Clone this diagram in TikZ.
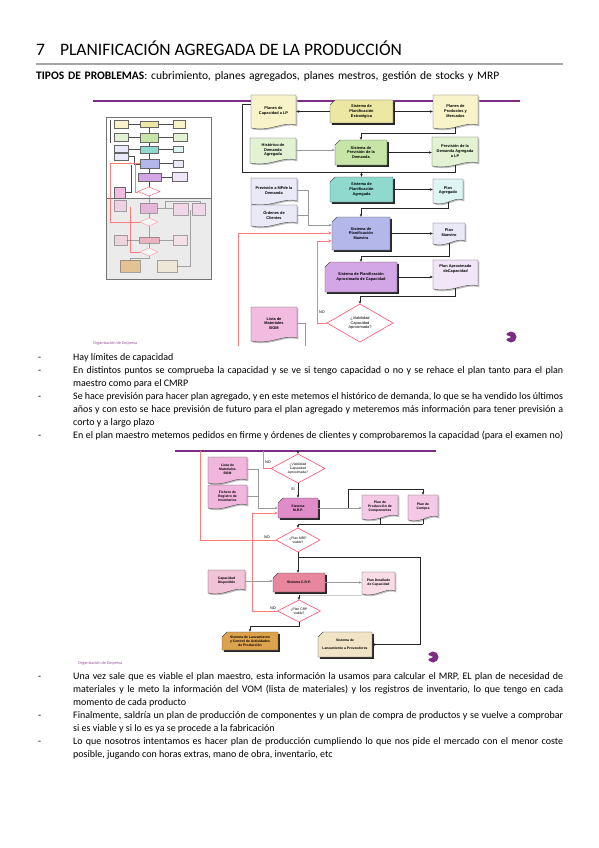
\documentclass[tikz,border=0pt]{standalone}
\usepackage{fontspec}
\setmainfont{Carlito}
\setsansfont{Liberation Sans}
\usetikzlibrary{arrows.meta,calc}
\definecolor{slidepurple}{HTML}{7B2C83}
\definecolor{redline}{HTML}{FF7A7A}
\definecolor{diamred}{HTML}{FF4F6E}
\definecolor{yel}{HTML}{F8F3C8}\definecolor{yelS}{HTML}{EDE7A4}
\definecolor{grn}{HTML}{E2F2D2}\definecolor{grnS}{HTML}{C6E5A6}
\definecolor{cyn}{HTML}{DDF5F3}\definecolor{cynS}{HTML}{8FD9CF}
\definecolor{lav}{HTML}{E9E9F7}\definecolor{lavS}{HTML}{B3B7EA}
\definecolor{lil}{HTML}{F1E5F8}\definecolor{lilS}{HTML}{D3A6E6}
\definecolor{pnk}{HTML}{F2BCE0}
\definecolor{pk2}{HTML}{F1B6DD}\definecolor{pk2S}{HTML}{E08CC8}\definecolor{pk3}{HTML}{F5C8E6}
\definecolor{rose}{HTML}{F2C2D6}\definecolor{roseS}{HTML}{E8869E}\definecolor{rose2}{HTML}{F8DCE6}
\definecolor{orng}{HTML}{DDA24E}\definecolor{beige}{HTML}{F1E3C6}
\tikzset{
  conn/.style={draw=black!85, line width=0.5pt},
  arr/.style={conn, -{Stealth[length=3pt,width=2.6pt]}},
  gconn/.style={draw=black!40, line width=0.5pt},
  garr/.style={gconn, -{Stealth[length=3pt,width=2.6pt]}},
  lconn/.style={draw=black!20, line width=0.5pt},
  redl/.style={draw=redline, line width=1pt},
  redarr/.style={redl, -{Stealth[length=3.5pt,width=3pt]}},
  boxtext/.style={font=\sffamily\bfseries\fontsize{3.9}{4.8}\selectfont, align=center, inner sep=0pt},
  dtext/.style={font=\sffamily\fontsize{3.9}{4.8}\selectfont, align=center, inner sep=0pt},
  lbl/.style={font=\sffamily\fontsize{3.8}{4.5}\selectfont, inner sep=0pt},
  bodyl/.style={anchor=base west, inner sep=0pt, font=\fontsize{10}{13}\selectfont},
  dashn/.style={anchor=base west, inner sep=0pt, font=\fontsize{10}{13}\selectfont},
  foot/.style={anchor=base west, inner sep=0pt, text=slidepurple!80, font=\fontsize{4.3}{5}\selectfont},
}
\newcommand\docn[7]{%
  \pgfmathsetmacro\dw{#4-#2}\pgfmathsetmacro\dh{#5-#3}%
  \fill[black!25] (#2+1.3,#3+1.3) -- (#4+1.3,#3+1.3) -- (#4+1.3,#5-0.7) .. controls (#4+1.3-0.3*\dw,#5-4.7) and (#2+1.3+0.45*\dw,#5+6.3) .. (#2+1.3,#5+2.3) -- cycle;
  \filldraw[fill=#6,draw=black!70,line width=.4pt] (#2,#3) -- (#4,#3) -- (#4,#5-2) .. controls (#4-0.3*\dw,#5-6) and (#2+0.45*\dw,#5+5) .. (#2,#5+1) -- cycle;
  \node[boxtext, minimum width=\dw pt, minimum height=\dh pt] (#1) at ({(#2+#4)/2},{(#3+#5)/2}) {#7};
}
\newcommand\procn[7]{%
  \pgfmathsetmacro\dw{#4-#2}\pgfmathsetmacro\dh{#5-#3}%
  \fill[black!85] (#2+6.8,#3+1.8) -- (#4+1.8,#3+1.8) -- (#4+1.8,#5+1.8) -- (#2+1.8,#5+1.8) -- (#2+1.8,#3+6.8) -- cycle;
  \filldraw[fill=#6,draw=black!70,line width=.4pt] (#2+5,#3) -- (#4,#3) -- (#4,#5) -- (#2,#5) -- (#2,#3+5) -- cycle;
  \node[boxtext, minimum width=\dw pt, minimum height=\dh pt] (#1) at ({(#2+#4)/2},{(#3+#5)/2}) {#7};
}
\newcommand\diam[6]{%
  \filldraw[fill=white, draw=diamred, line width=.6pt] (#2-#4/2,#3) -- (#2,#3-#5/2) -- (#2+#4/2,#3) -- (#2,#3+#5/2) -- cycle;
  \node[dtext, minimum width=#4 pt, minimum height=#5 pt] (#1) at (#2,#3) {#6};
}
\newcommand\minibox[5]{\filldraw[fill=#5, draw=black!60, line width=.25pt] (#1,#2) rectangle (#3,#4);}
\begin{document}
\begin{tikzpicture}[x=1pt,y=-1pt]
\useasboundingbox[fill=white] (0,0) rectangle (599,848);
% heading
\node[anchor=base west, inner sep=0pt, font=\fontsize{17.5}{20}\selectfont] (title) at (36,56) {7\hspace{15pt}PLANIFICACIÓN AGREGADA DE LA PRODUCCIÓN};
\draw[black!35, line width=1.2pt] (36,64) -- (563,64);
\node[anchor=base west, inner sep=0pt, font=\fontsize{11.5}{12}\selectfont] (tipos) at (36,80) {\hbox to 463pt{\textbf{TIPOS DE PROBLEMAS}: cubrimiento, planes agregados, planes mestros, gestión de stocks y MRP}};

% ================= slide 1 =================
\draw[slidepurple, line width=2pt] (93,101.5) -- (520,101.5);
% thumbnail
\filldraw[fill=white, draw=black!55, line width=.5pt] (106,117) rectangle (211,279);
\fill[black!8] (106.5,198) rectangle (210.5,278.5);
\draw[black!55, line width=.8pt] (106,198) -- (211,198);
\draw[black!70, line width=.3pt] (128,124) -- (140,124) (158,124) -- (173,124) (128,137) -- (140,137) (158,137) -- (173,137)
  (128,149) -- (140,149) (158,149) -- (173,149) (159,163) -- (173,163) (161,177) -- (172,177)
  (110,120) -- (110,143) (149,128) -- (149,133) (149,142) -- (149,146) (149,153) -- (149,159) (149,168) -- (149,173) (149,181) -- (149,187)
  (125,192) -- (131,192) -- (131,165) (128,156) -- (134,156) -- (134,164) -- (140,164);
\minibox{114}{120}{128}{128}{yel}\minibox{140}{121}{158}{127}{yelS}\minibox{173}{120}{185}{128}{yel}
\minibox{114}{133}{128}{141}{grn}\minibox{140}{133}{158}{142}{grnS}\minibox{173}{133}{187}{141}{grn}
\minibox{114}{145}{128}{152}{lav}\minibox{114}{153}{128}{160}{lav}\minibox{140}{146}{158}{153}{cynS}\minibox{173}{146}{183}{152}{cyn}
\minibox{140}{159}{159}{168}{lavS}\minibox{173}{160}{183}{167}{lav}
\minibox{138}{173}{161}{181}{lilS}\minibox{172}{172}{187}{181}{lil}
\minibox{114}{187}{125}{198}{pnk}
\draw[redline, line width=.6pt] (110,163) -- (140,163) (110,163) -- (110,222) -- (140,222) (135,163) -- (135,192) -- (138,192)
  (130,207) -- (130,252) -- (140,252);
\filldraw[fill=white, draw=diamred, line width=.4pt] (138,191.5) -- (149,187) -- (160,191.5) -- (149,196) -- cycle;
\begin{scope}[opacity=.55]
\draw[black!60, line width=.3pt] (149,196) -- (149,203) (157,208) -- (173,208) (165,208) -- (165,201) -- (200,201) -- (200,203)
  (149,213) -- (149,218) (149,226) -- (149,237) (126,240) -- (139,240) (159,240) -- (173,240) (149,243) -- (149,248)
  (149,256) -- (149,258) -- (130,258) -- (130,260) (190,210) -- (190,266) -- (177,266);
\minibox{114}{200}{126}{211}{pnk}\minibox{140}{203}{157}{213}{pk2S}\minibox{173}{203}{188}{215}{pk3}\minibox{192}{203}{205}{215}{pk3}
\minibox{114}{235}{127}{245}{rose}\minibox{139}{237}{159}{243}{roseS}\minibox{173}{235}{187}{245}{rose2}
\minibox{120}{260}{140}{272}{orng}\minibox{157}{260}{177}{272}{beige}
\filldraw[fill=white, draw=diamred, line width=.4pt] (140,222) -- (149,218) -- (158,222) -- (149,226) -- cycle;
\filldraw[fill=white, draw=diamred, line width=.4pt] (140,252) -- (149,248) -- (158,252) -- (149,256) -- cycle;
\end{scope}

% main slide 1 diagram
\docn{pcap}{251}{95}{296}{127}{yel}{Planes de\\Capacidad a LP}
\procn{sest}{330}{100}{393}{123}{yelS}{Sistema de\\Planificación\\Estratégica}
\docn{pprod}{433}{95}{478}{127}{yel}{Planes de\\Productos y\\Mercados}
\docn{hist}{250}{138}{296}{162}{grn}{Histórico de\\Demanda\\Agregada}
\procn{sprev}{335}{140}{387}{165}{grnS}{Sistema de\\Previsión de la\\Demanda}
\docn{prevlp}{432}{137}{478}{165}{grn}{Previsión de la\\Demanda Agregada\\a LP}
\docn{prevmp}{251}{178}{297}{203}{lav}{Previsión a MPde la\\Demanda}
\docn{ordenes}{251}{205}{297}{225}{lav}{Órdenes de\\Clientes}
\procn{sagr}{330}{177}{393}{202}{cynS}{Sistema de\\Planificación\\Agregada}
\docn{pagr}{433}{179}{463}{202}{cyn}{Plan\\Agregado}
\procn{smae}{332}{217}{390}{250}{lavS}{Sistema de\\Planificación\\Maestra}
\docn{pmaestro}{433}{223}{465}{243}{lav}{Plan\\Maestro}
\procn{saprox}{325}{262}{397}{292}{lilS}{Sistema de Planificación\\Aproximado de Capacidad}
\docn{paprox}{433}{260}{478}{288}{lil}{Plan Aproximado\\deCapacidad\\[6pt]}
\docn{bom1}{251}{307}{297}{340}{pnk}{Lista de\\Materiales\\BOM}
\diam{d1}{360}{323}{66}{38}{¿Viabilidad\\Capacidad\\Aproximada?}

\coordinate (c1) at (0,133);
\coordinate (c2) at (242,172);
\coordinate (c3) at (242,104);
\coordinate (c4) at (0,208);
\coordinate (c5) at (0,256);
\coordinate (c6) at (0,296);
\coordinate (j1) at (308,225);
\coordinate (r1) at (238,346);
\coordinate (r2) at (238,233);
\coordinate (r3) at (317,241);
\coordinate (b1) at (305,346);
\draw[arr] (sest.west) -- (sest.west -| pcap.east);
\draw[arr] (sest.east) -- (sest.east -| pprod.west);
\draw[arr] (pprod.south) -- (pprod.south |- c1) -| (sprev.north);
\draw[garr] (hist.east) -- (hist.east -| sprev.west);
\draw[arr] (sprev.east) -- (sprev.east -| prevlp.west);
\draw[conn] (prevlp.south) -- (prevlp.south |- c2) -- (c2) -- (c3) -- (c3 -| pcap.west);
\draw[arr] (sagr.north |- c2) -- (sagr.north);
\draw[arr] (sagr.east) -- (sagr.east -| pagr.west);
\draw[arr] (pagr.south) -- (pagr.south |- c4) -| (smae.north);
\draw[gconn] (prevmp.east) -| (j1);
\draw[gconn] (ordenes.east) -| (j1);
\draw[garr] (j1) -- (j1 -| smae.west);
\draw[arr] (smae.east) -- (smae.east -| pmaestro.west);
\draw[redarr] (r1) -- (r2) -- (r2 -| smae.west);
\draw[redarr] (d1.west) -| (r3) -- (r3 -| smae.west);
\node[lbl] (no1) at (322,312) {NO};
\draw[arr] (pmaestro.south) -- (pmaestro.south |- c5) -| (saprox.north);
\draw[arr] (saprox.east) -- (saprox.east -| paprox.west);
\draw[arr] (paprox.south) -- (paprox.south |- c6) -| (d1.north);
\draw[gconn] (bom1.east) -| (b1);
\node[foot] (foot1) at (93,344) {Organización de Empresa};
\fill[slidepurple] (511,337) circle (5.5);
\fill[white] (511,337) -- (504,334) -- (504,340) -- cycle;

% ================= text block 1 =================
\node[dashn] (d11) at (38,360) {-};
\node[bodyl] (l11) at (73,360) {Hay límites de capacidad};
\node[dashn] (d12) at (38,373) {-};
\node[bodyl] (l12) at (73,373) {\hbox to 490pt{En distintos puntos se comprueba la capacidad y se ve si tengo capacidad o no y se rehace el plan tanto para el plan}};
\node[bodyl] (l13) at (73,386) {maestro como para el CMRP};
\node[dashn] (d14) at (38,399) {-};
\node[bodyl] (l14) at (73,399) {\hbox to 490pt{Se hace previsión para hacer plan agregado, y en este metemos el histórico de demanda, lo que se ha vendido los últimos}};
\node[bodyl] (l15) at (73,412) {\hbox to 490pt{años y con esto se hace previsión de futuro para el plan agregado y meteremos más información para tener previsión a}};
\node[bodyl] (l16) at (73,425) {corto y a largo plazo};
\node[dashn] (d17) at (38,438) {-};
\node[bodyl] (l17) at (73,438) {\hbox to 490pt{En el plan maestro metemos pedidos en firme y órdenes de clientes y comprobaremos la capacidad (para el examen no)}};

% ================= slide 2 =================
\tikzset{boxtext/.style={font=\sffamily\bfseries\fontsize{3.4}{4.2}\selectfont, align=center, inner sep=0pt},
         dtext/.style={font=\sffamily\fontsize{3.4}{4.2}\selectfont, align=center, inner sep=0pt}}
\draw[slidepurple, line width=2pt] (175,451) -- (436,451);
\diam{d2}{298}{468.5}{54}{29}{¿Viabilidad\\Capacidad\\Aproximada?}
\docn{bom2}{208}{457}{247}{482}{pk2}{Lista de\\Materiales\\BOM}
\docn{fich}{208}{485}{247}{507}{pk2}{Fichero de\\Registro de\\Inventarios}
\procn{mrp}{278}{498}{318}{518}{pk2S}{Sistema\\M.R.P.}
\docn{pprodc}{362}{495}{398}{518}{pk3}{Plan de\\Producción de\\Componentes}
\docn{pcompra}{408}{495}{438}{519}{pk3}{Plan de\\Compra}
\diam{d3}{298}{540}{44}{24}{¿Plan MRP\\viable?}
\docn{capd}{208}{570}{245}{592}{rose}{Capacidad\\Disponible}
\procn{crp}{273}{573}{325}{592}{roseS}{Sistema C.R.P.}
\docn{pdet}{362}{572}{395}{593}{rose2}{Plan Detallado\\de Capacidad}
\diam{d4}{299}{611}{43}{22}{¿Plan CRP\\viable?}
\procn{slanz1}{222}{632}{278}{650}{orng}{Sistema de Lanzamiento\\y Control de Actividades\\de Producción}
\procn{slanz2}{318}{632}{372}{657}{beige}{Sistema de\\[4pt]Lanzamiento a Proveedores}

\coordinate (t1) at (298,451);
\coordinate (r4) at (263,451);
\coordinate (r5) at (252,513);
\coordinate (r7) at (200,451);
\coordinate (j2) at (258,508);
\coordinate (j3) at (348,508);
\coordinate (j4) at (348,489);
\coordinate (c7) at (0,524);
\coordinate (c8) at (420,557);
\coordinate (c9) at (0,595);
\coordinate (c10) at (0,626);
\draw[arr] (t1) -- (d2.north);
\draw[redl] (d2.west) -| (r4);
\node[lbl] (no2) at (268,462) {NO};
\node[lbl] (si) at (293,489) {SI};
\draw[arr] (d2.south) -- (mrp.north);
\draw[gconn] (bom2.east) -| (j2);
\draw[gconn] (fich.east) -| (j2);
\draw[garr] (j2) -- (j2 -| mrp.west);
\draw[redarr] (d4.west) -| (r5) -- (r5 -| mrp.west);
\node[lbl] (no4) at (273,608) {NO};
\draw[redl] (d3.west) -| (r7);
\node[lbl] (no3) at (267,537) {NO};
\draw[gconn] (mrp.east) -- (j3);
\draw[garr] (j3) -- (j3 -| pprodc.west);
\draw[arr] (j3) -- (j4) -| (pcompra.north);
\draw[conn] (pprodc.south) -- (pprodc.south |- c7);
\draw[conn] (pcompra.south) -- (pcompra.south |- c7);
\draw[arr] (pcompra.south |- c7) -- (d3.north |- c7) -- (d3.north);
\draw[conn] (d3.south) -- (d3.south |- c8);
\draw[arr] (d3.south |- c8) -- (c8) |- (slanz2.east);
\draw[arr] (d3.south) -- (d3.south |- crp.north);
\draw[garr] (capd.east) -- (capd.east -| crp.west);
\draw[garr] (crp.east) -- (crp.east -| pdet.west);
\draw[lconn] (pdet.south west |- c9) -- (d4.north |- c9);
\draw[arr] (d4.north |- c9) -- (d4.north);
\draw[arr] (d4.south) -- (d4.south |- c10) -| (slanz1.north);
\node[foot] (foot2) at (78,664) {Organización de Empresa};
\fill[slidepurple] (433,657) circle (5.5);
\fill[white] (433,657) -- (426,654) -- (426,660) -- cycle;

% ================= text block 2 =================
\node[dashn] (d21) at (38,679) {-};
\node[bodyl] (l21) at (73,679) {\hbox to 490pt{Una vez sale que es viable el plan maestro, esta información la usamos para calcular el MRP, EL plan de necesidad de}};
\node[bodyl] (l22) at (73,692) {\hbox to 490pt{materiales y le meto la información del VOM (lista de materiales) y los registros de inventario, lo que tengo en cada}};
\node[bodyl] (l23) at (73,705) {momento de cada producto};
\node[dashn] (d24) at (38,718) {-};
\node[bodyl] (l24) at (73,718) {\hbox to 490pt{Finalmente, saldría un plan de producción de componentes y un plan de compra de productos y se vuelve a comprobar}};
\node[bodyl] (l25) at (73,731) {si es viable y si lo es ya se procede a la fabricación};
\node[dashn] (d26) at (38,744) {-};
\node[bodyl] (l26) at (73,744) {\hbox to 490pt{Lo que nosotros intentamos es hacer plan de producción cumpliendo lo que nos pide el mercado con el menor coste}};
\node[bodyl] (l27) at (73,757) {posible, jugando con horas extras, mano de obra, inventario, etc};
\end{tikzpicture}
\end{document}
